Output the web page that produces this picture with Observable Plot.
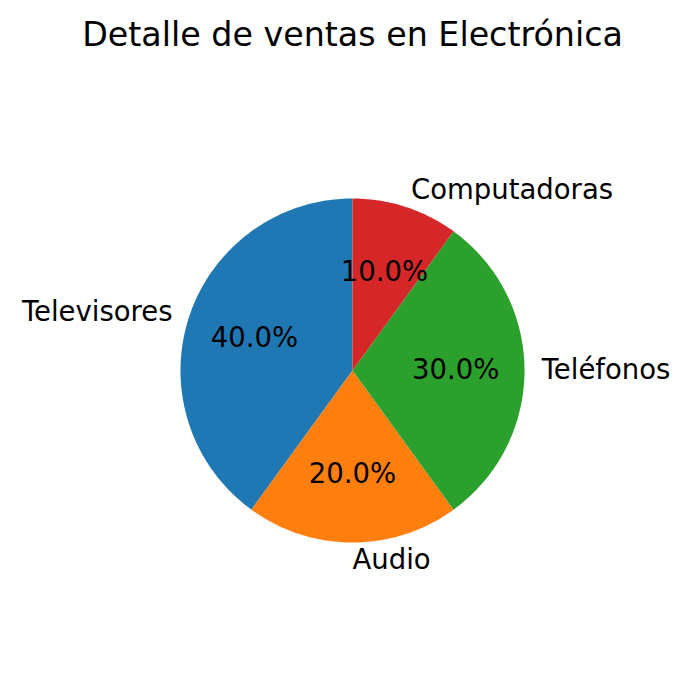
<!DOCTYPE html>
<html><head><meta charset="utf-8">
<script src="https://cdn.jsdelivr.net/npm/d3@7"></script>
<script src="https://cdn.jsdelivr.net/npm/@observablehq/plot@0.6"></script>
<style>
body{margin:0;background:#fff;font-family:"DejaVu Sans",sans-serif;}
#title{width:705px;text-align:center;font-size:33.3px;height:70px;line-height:70px;color:#000;}
</style></head>
<body>
<div id="title">Detalle de ventas en Electrónica</div>
<div id="chart"></div>
<script>
const categories = ["Televisores", "Audio", "Teléfonos", "Computadoras"];
const values = [40, 20, 30, 10];
const colors = ["#1f77b4", "#ff7f0e", "#2ca02c", "#d62728"];
const startAngle = 90;

const total = d3.sum(values);
const slices = [];
let acc = 0;
categories.forEach((c, i) => {
  const t1 = startAngle + acc / total * 360;
  acc += values[i];
  const t2 = startAngle + acc / total * 360;
  slices.push({cat: c, value: values[i], t1, t2, mid: (t1 + t2) / 2});
});

// wedge outlines (geometry of each slice on a unit circle)
const wedgePts = [];
slices.forEach(s => {
  wedgePts.push({cat: s.cat, x: 0, y: 0});
  const n = Math.max(2, Math.ceil(s.t2 - s.t1));
  for (let k = 0; k <= n; k++) {
    const a = (s.t1 + (s.t2 - s.t1) * k / n) * Math.PI / 180;
    wedgePts.push({cat: s.cat, x: Math.cos(a), y: Math.sin(a)});
  }
  wedgePts.push({cat: s.cat, x: 0, y: 0});
});

const labels = slices.map(s => {
  const a = s.mid * Math.PI / 180;
  return {cat: s.cat, x: 1.1 * Math.cos(a), y: 1.1 * Math.sin(a),
          px: 0.6 * Math.cos(a), py: 0.6 * Math.sin(a),
          pct: (s.value / total * 100).toFixed(1) + "%"};
});
const leftLabels = labels.filter(d => d.x > -1e-9);
const rightLabels = labels.filter(d => d.x <= -1e-9);

const R = 172;
const chart = Plot.plot({
  width: 692,
  height: 628,
  margin: 0,
  style: {fontFamily: "DejaVu Sans", background: "#fff"},
  x: {domain: [-352 / R, 340 / R], axis: null},
  y: {domain: [-328 / R, 300 / R], axis: null},
  color: {domain: categories, range: colors},
  marks: [
    Plot.line(wedgePts, {x: "x", y: "y", z: "cat", fill: "cat", stroke: null, curve: "linear"}),
    Plot.text(leftLabels, {x: "x", y: "y", text: "cat", textAnchor: "start", lineAnchor: "middle", fontSize: 27.5, fill: "black"}),
    Plot.text(rightLabels, {x: "x", y: "y", text: "cat", textAnchor: "end", lineAnchor: "middle", fontSize: 27.5, fill: "black"}),
    Plot.text(labels, {x: "px", y: "py", text: "pct", textAnchor: "middle", lineAnchor: "middle", fontSize: 27.5, fill: "black"})
  ]
});
document.getElementById("chart").appendChild(chart);
</script>
</body></html>
